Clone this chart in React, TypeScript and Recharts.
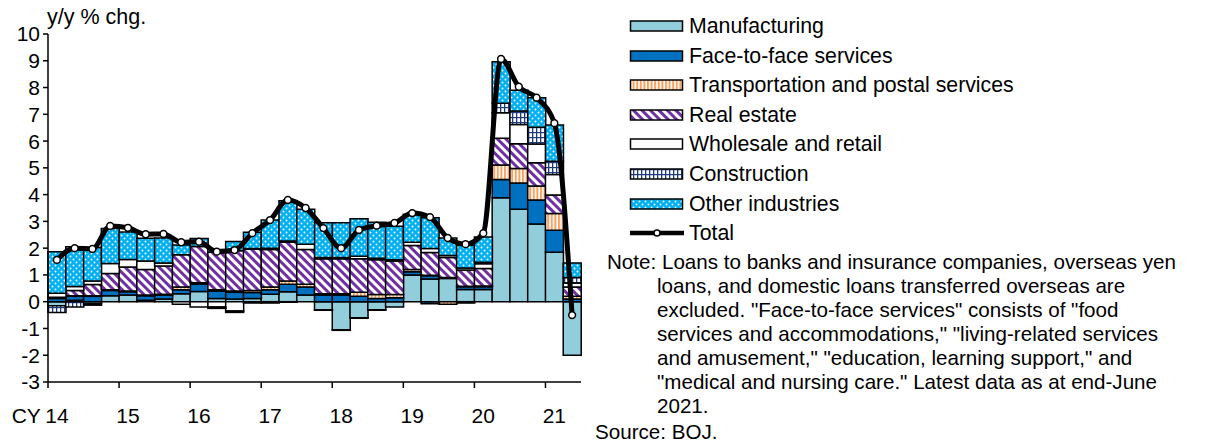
import React from 'react';
import { ComposedChart, Bar, Line, XAxis, YAxis } from 'recharts';

// quarterly, CY2014 Q1 .. CY2021 Q2
const quarters = [
  '14Q1', '14Q2', '14Q3', '14Q4', '15Q1', '15Q2', '15Q3', '15Q4',
  '16Q1', '16Q2', '16Q3', '16Q4', '17Q1', '17Q2', '17Q3', '17Q4',
  '18Q1', '18Q2', '18Q3', '18Q4', '19Q1', '19Q2', '19Q3', '19Q4',
  '20Q1', '20Q2', '20Q3', '20Q4', '21Q1', '21Q2',
];
const yearLabels = ['14', '15', '16', '17', '18', '19', '20', '21'];
const yTicks = [-3, -2, -1, 0, 1, 2, 3, 4, 5, 6, 7, 8, 9, 10];

const manufacturing = [-0.15, 0.05, -0.08, 0.22, 0.25, 0.05, 0.1, 0.3, 0.38, 0.12, 0.1, 0.12, 0.28, 0.37, 0.25, -0.3, -1.05, -0.6, -0.3, -0.2, 1.0, 0.85, 0.87, 0.46, 0.46, 3.88, 3.45, 2.9, 1.85, -2.0];
const faceToFace = [0.12, 0.15, 0.2, 0.2, 0.12, 0.17, 0.15, 0.15, 0.28, 0.28, 0.25, 0.22, 0.17, 0.28, 0.3, 0.25, 0.25, 0.2, 0.12, 0.15, 0.12, 0.12, 0.03, 0.1, 0.1, 0.68, 0.98, 0.9, 0.82, 0.1];
const transport = [0.02, 0.02, 0.02, 0.03, 0.03, 0.03, 0.03, 0.1, 0.05, 0.05, 0.05, 0.08, 0.1, 0.12, 0.1, 0.05, 0.05, 0.15, 0.15, 0.12, 0.08, 0.02, -0.1, 0.02, 0.03, 0.55, 0.55, 0.52, 0.62, 0.1];
const realEstate = [0.03, 0.2, 0.42, 0.6, 0.9, 0.95, 1.05, 1.2, 1.35, 1.4, 1.5, 1.55, 1.4, 1.45, 1.3, 1.3, 1.3, 1.25, 1.3, 1.25, 0.9, 0.85, 0.75, 0.6, 0.65, 1.0, 0.92, 0.87, 0.7, 0.35];
const wholesale = [0.15, 0.15, 0.13, 0.38, 0.28, 0.32, 0.12, -0.1, -0.2, -0.2, -0.35, 0.02, 0.05, 0.05, 0.2, 0.05, 0.05, 0.1, 0.05, 0.05, 0.12, 0.15, 0.08, 0.08, 0.18, 0.95, 0.72, 0.7, 0.76, 0.15];
const construction = [-0.25, -0.2, -0.05, 0, 0, 0, 0, 0, 0, -0.05, -0.05, -0.05, -0.05, -0.02, 0, -0.02, -0.02, -0.02, -0.02, 0, 0, -0.08, 0, -0.05, 0.05, 0.35, 0.5, 0.63, 0.5, 0.2];
const otherIndustries = [1.55, 1.48, 1.25, 1.3, 1.02, 0.85, 0.93, 0.37, 0.3, 0.1, 0.35, 0.6, 1.05, 1.5, 1.3, 1.3, 1.3, 1.4, 1.35, 1.25, 1.05, 1.15, 0.65, 0.85, 0.95, 1.55, 0.78, 1.1, 1.35, 0.55];
const total = [1.56, 2.0, 1.97, 2.83, 2.76, 2.52, 2.53, 2.22, 2.24, 1.87, 1.93, 2.56, 3.05, 3.8, 3.5, 2.75, 2.0, 2.68, 2.84, 2.94, 3.31, 3.16, 2.38, 2.15, 2.56, 9.07, 8.03, 7.62, 6.67, -0.5];

const data = quarters.map((q, i) => ({
  q,
  manufacturing: manufacturing[i],
  faceToFace: faceToFace[i],
  transport: transport[i],
  realEstate: realEstate[i],
  wholesale: wholesale[i],
  construction: construction[i],
  other: otherIndustries[i],
  total: total[i],
}));

const series = [
  { key: 'manufacturing', name: 'Manufacturing', fill: '#92CDDC' },
  { key: 'faceToFace', name: 'Face-to-face services', fill: '#0070C0' },
  { key: 'transport', name: 'Transportation and postal services', fill: 'url(#patTransport)' },
  { key: 'realEstate', name: 'Real estate', fill: 'url(#patRealEstate)' },
  { key: 'wholesale', name: 'Wholesale and retail', fill: '#FFFFFF' },
  { key: 'construction', name: 'Construction', fill: 'url(#patConstruction)' },
  { key: 'other', name: 'Other industries', fill: 'url(#patOther)' },
];

const FONT = '"Liberation Sans", Arial, sans-serif';
const CHART_W = 600;
const CHART_H = 445;
const PLOT_LEFT = 48;
const PLOT_RIGHT = 581;
const BAND = (PLOT_RIGHT - PLOT_LEFT) / quarters.length;

const Patterns = () => (
  <svg width={0} height={0} style={{ position: 'absolute' }}>
    <defs>
      <pattern id="patTransport" width={3.6} height={4} patternUnits="userSpaceOnUse">
        <rect width={3.6} height={4} fill="#fff" />
        <rect width={2} height={4} fill="#F9A160" />
      </pattern>
      <pattern id="patRealEstate" width={6} height={6} patternUnits="userSpaceOnUse" patternTransform="rotate(-45)">
        <rect width={6} height={6} fill="#fff" />
        <rect width={3} height={6} fill="#7030A0" />
      </pattern>
      <pattern id="patConstruction" width={4} height={5} patternUnits="userSpaceOnUse">
        <rect width={4} height={5} fill="#fff" />
        <rect width={1.3} height={5} fill="#1F3A7A" />
        <rect width={4} height={1.2} y={2} fill="#1F3A7A" />
      </pattern>
      <pattern id="patOther" width={6} height={6} patternUnits="userSpaceOnUse">
        <rect width={6} height={6} fill="#00B0F0" />
        <circle cx={1.5} cy={1.5} r={0.95} fill="#fff" />
        <circle cx={4.5} cy={4.5} r={0.95} fill="#fff" />
      </pattern>
    </defs>
  </svg>
);

const YearTick = (props: any) => {
  const { x, y, payload } = props;
  const i = payload.index;
  if (i % 4 !== 0) return null;
  const left = x - BAND / 2;
  return (
    <g>
      <line x1={left} x2={left} y1={y} y2={y + 6} stroke="#000" strokeWidth={1.5} />
      <text x={x} y={y + 41} textAnchor="middle" fontSize={21} fontFamily={FONT} fill="#000">
        {yearLabels[i / 4]}
      </text>
      {i === 0 && (
        <text x={x - 16} y={y + 41} textAnchor="end" fontSize={21} fontFamily={FONT} fill="#000">
          CY
        </text>
      )}
    </g>
  );
};

const noteLines = [
  'loans, and domestic loans transferred overseas are',
  'excluded. "Face-to-face services" consists of "food',
  'services and accommodations," "living-related services',
  'and amusement," "education, learning support," and',
  '"medical and nursing care." Latest data as at end-June',
  '2021.',
];

const textStyle: React.CSSProperties = {
  position: 'absolute',
  fontFamily: FONT,
  fontSize: 20.6,
  lineHeight: '24px',
  whiteSpace: 'nowrap',
  color: '#000',
};

export default function App() {
  return (
    <div style={{ position: 'absolute', left: 0, top: 0, width: 1220, height: 445, background: '#fff' }}>
      <Patterns />
      <div style={{ ...textStyle, left: 47, top: 5, fontSize: 21.5 }}>y/y % chg.</div>
      <div style={{ position: 'absolute', left: 0, top: 0 }}>
        <ComposedChart
          width={CHART_W}
          height={CHART_H}
          data={data}
          stackOffset="sign"
          barCategoryGap={0}
          barGap={0}
          margin={{ top: 34, right: CHART_W - PLOT_RIGHT, bottom: 13, left: 4 }}
        >
          <XAxis
            dataKey="q"
            interval={0}
            tickLine={false}
            tickSize={0}
            tickMargin={0}
            height={50}
            axisLine={{ stroke: '#000', strokeWidth: 1.5 }}
            tick={<YearTick />}
          />
          <YAxis
            width={PLOT_LEFT - 4}
            domain={[-3, 10]}
            ticks={yTicks}
            interval={0}
            allowDataOverflow
            tickSize={5}
            tickMargin={3}
            axisLine={{ stroke: '#000', strokeWidth: 1.5 }}
            tickLine={{ stroke: '#000', strokeWidth: 1.5 }}
            tick={{ fill: '#000', fontSize: 21, fontFamily: FONT }}
          />
          {series.map((s) => (
            <Bar
              key={s.key}
              dataKey={s.key}
              name={s.name}
              stackId="a"
              fill={s.fill}
              stroke="#000"
              strokeWidth={1.5}
              isAnimationActive={false}
            />
          ))}
          <Line
            dataKey="total"
            name="Total"
            type="monotone"
            stroke="#000"
            strokeWidth={5}
            dot={{ r: 3.4, fill: '#fff', stroke: '#000', strokeWidth: 1.5 }}
            isAnimationActive={false}
          />
        </ComposedChart>
      </div>

      {series.map((s, i) => (
        <div key={s.key}>
          <svg width={56} height={14} style={{ position: 'absolute', left: 629, top: 26 + i * 29.6 - 7 }}>
            <rect x={1.5} y={2} width={52} height={10} fill={s.fill} stroke="#000" strokeWidth={1.5} />
          </svg>
          <div style={{ ...textStyle, fontSize: 21.3, left: 689, top: 26 + i * 29.6 - 12 }}>{s.name}</div>
        </div>
      ))}
      <svg width={56} height={14} style={{ position: 'absolute', left: 629, top: 26 + 7 * 29.6 - 7 }}>
        <line x1={1} x2={55} y1={7} y2={7} stroke="#000" strokeWidth={4.5} />
        <circle cx={28} cy={7} r={3} fill="#fff" stroke="#000" strokeWidth={1.5} />
      </svg>
      <div style={{ ...textStyle, fontSize: 21.3, left: 689, top: 26 + 7 * 29.6 - 12 }}>Total</div>

      <div style={{ ...textStyle, left: 607, top: 250 }}>
        Note: Loans to banks and insurance companies, overseas yen
      </div>
      {noteLines.map((t, i) => (
        <div key={i} style={{ ...textStyle, left: 657, top: 274 + i * 24 }}>{t}</div>
      ))}
      <div style={{ ...textStyle, left: 595, top: 420 }}>Source: BOJ.</div>
    </div>
  );
}
